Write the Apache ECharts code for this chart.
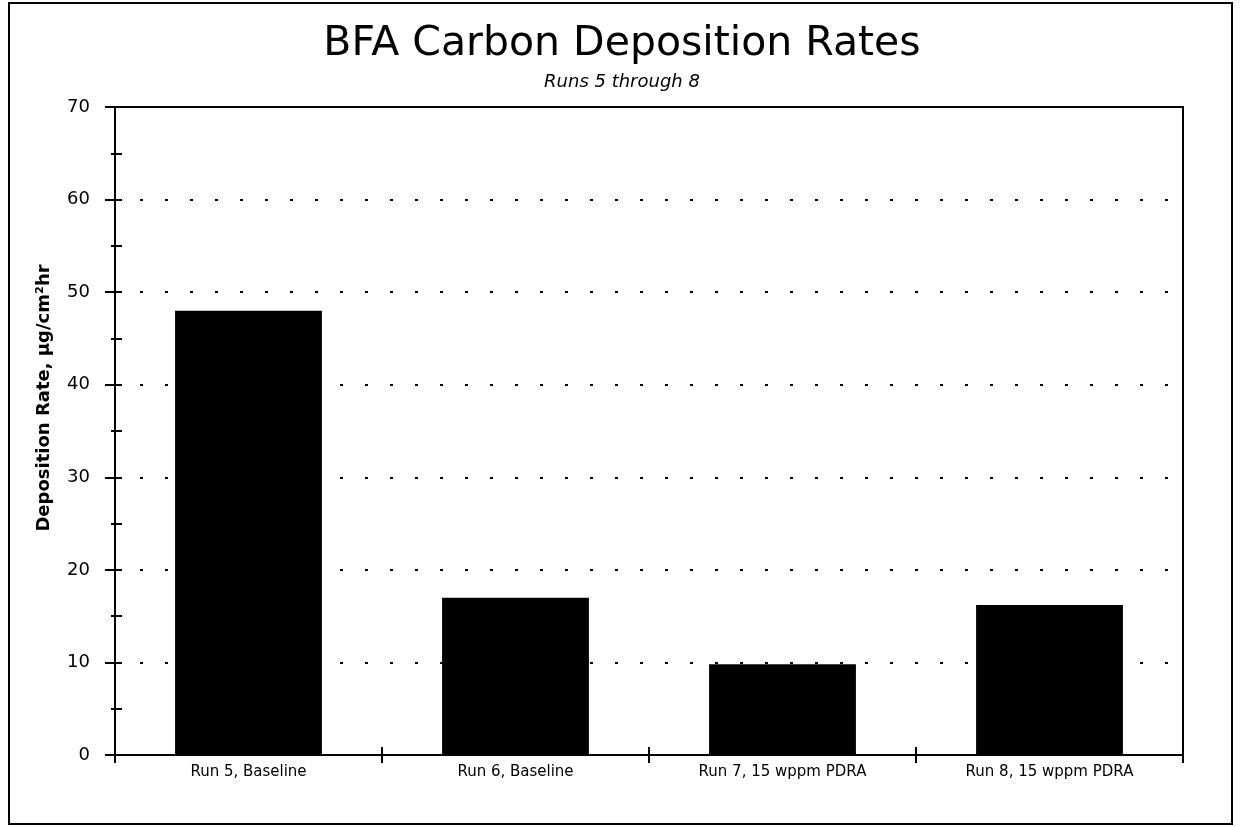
<!DOCTYPE html>
<html>
<head>
    <meta charset="utf-8">
    <title>BFA Carbon Deposition Rates</title>
    <script src="https://cdn.jsdelivr.net/npm/echarts@6/dist/echarts.min.js"></script>
    <style>
        html, body { margin: 0; padding: 0; background: #ffffff; }
        #chart { width: 1244px; height: 827px; }
    </style>
</head>
<body>
<div id="chart"></div>
<script>
    // data
    var runs = ['Run 5, Baseline', 'Run 6, Baseline', 'Run 7, 15 wppm PDRA', 'Run 8, 15 wppm PDRA'];
    var rates = [48, 17, 9.8, 16.2];
    var yTicks = [0, 10, 20, 30, 40, 50, 60, 70];

    var font = '"DejaVu Sans", sans-serif';
    var black = { color: '#000', width: 2 };
    var chart = echarts.init(document.getElementById('chart'));

    // axes are shifted into the plot (negative offset) so their outward ticks
    // cross the frame line, which the grid border draws
    var option = {
        backgroundColor: '#ffffff',
        animation: false,
        title: [{
            text: 'BFA Carbon Deposition Rates',
            left: 'center',
            top: 19,
            textStyle: { fontFamily: font, fontSize: 41, fontWeight: 'normal', color: '#000' }
        }, {
            text: 'Runs 5 through 8',
            left: 'center',
            top: 68,
            textStyle: { fontFamily: font, fontSize: 18, fontStyle: 'italic', fontWeight: 'normal', color: '#000' }
        }],
        graphic: [{
            type: 'rect',
            shape: { x: 9, y: 3, width: 1223, height: 821 },
            style: { fill: 'none', stroke: '#000', lineWidth: 2 },
            silent: true
        }],
        grid: {
            left: 115,
            right: 61,
            top: 107,
            bottom: 72,
            show: true,
            borderColor: '#000',
            borderWidth: 2
        },
        xAxis: {
            type: 'category',
            data: runs,
            offset: -8,
            axisLine: { show: false },
            axisTick: { show: true, length: 16, lineStyle: black },
            axisLabel: { fontFamily: font, fontSize: 15, color: '#000', margin: 18 }
        },
        yAxis: {
            type: 'value',
            min: yTicks[0],
            max: yTicks[yTicks.length - 1],
            interval: 10,
            offset: -7,
            name: 'Deposition Rate, µg/cm²hr',
            nameLocation: 'middle',
            nameGap: 69,
            nameTextStyle: { fontFamily: font, fontSize: 18, fontWeight: 'bold', color: '#000', padding: [0, 0, 0, 66] },
            axisLine: { show: false },
            axisTick: { show: true, length: 17, lineStyle: black },
            minorTick: { show: true, splitNumber: 2, length: 11, lineStyle: black },
            axisLabel: { fontFamily: font, fontSize: 18, color: '#000', margin: 32 },
            splitLine: { show: true, lineStyle: { color: '#000', width: 2, type: [3, 22] } }
        },
        series: [{
            type: 'bar',
            data: rates,
            barWidth: '55%',
            itemStyle: { color: '#000' }
        }]
    };
    chart.setOption(option);

    window.onresize = function () {
        chart.resize();
    };
</script>
</body>
</html>
